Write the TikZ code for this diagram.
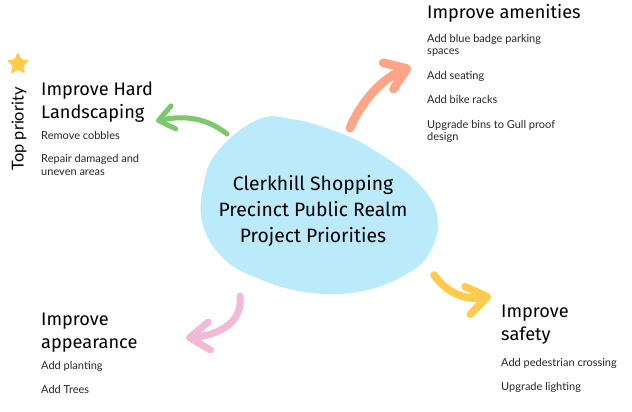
\documentclass[tikz,border=0pt]{standalone}
\usepackage{fontspec}
\setmainfont{Lato}
\newfontfamily\handfont{Fira Sans}
\usepackage{xcolor}
\usepackage{tikz}
\usetikzlibrary{positioning,arrows.meta,shapes.geometric}

\definecolor{blobblue}{HTML}{BBEAFB}
\definecolor{brushgreen}{HTML}{7CC86A}
\definecolor{brushorange}{HTML}{FFA587}
\definecolor{brushyellow}{HTML}{FFCB4C}
\definecolor{brushpink}{HTML}{F2BAD6}

\begin{document}
\begin{tikzpicture}[
    x=0.03cm, y=-0.03cm,
    head_txt/.style={anchor=base west, inner sep=0pt, font=\handfont\fontsize{15.5}{18}\selectfont},
    item_txt/.style={anchor=base west, inner sep=0pt, text=black!85, font=\fontsize{9.4}{11}\selectfont},
    title_txt/.style={anchor=base, inner sep=0pt, font=\handfont\fontsize{16.5}{20}\selectfont},
    brush/.style={draw=#1, line cap=round, line join=round},
    tip_s/.style={-{Straight Barb[length=13pt, width=20pt, round]}},
    tip_l/.style={-{Straight Barb[length=17pt, width=24pt, round]}}
]
\useasboundingbox (0,0) rectangle (632,411);

% centre blob
\fill[blobblue] plot[smooth cycle, tension=0.7] coordinates {
    (257,120) (292,119) (340,133) (377,152) (417,182) (437,215)
    (430,252) (403,276) (357,292) (305,292) (257,278) (223,258)
    (203,225) (203,188) (217,152)};

\node[title_txt] (t1) at (313,190) {Clerkhill Shopping};
\node[title_txt] (t2) at (313,216) {Precinct Public Realm};
\node[title_txt] (t3) at (313,242) {Project Priorities};

% top priority
\node[star, star points=5, star point ratio=2.3, fill=brushyellow, draw=brushyellow,
      rounded corners=1.5pt, minimum size=0.72cm, inner sep=0pt] (prio_star) at (18,64) {};
\node[rotate=90, inner sep=0pt, font=\fontsize{14}{16}\selectfont] (prio) at (19,129) {Top priority};

% hard landscaping
\node[head_txt] (hard_h1) at (41,95) {Improve Hard};
\node[head_txt] (hard_h2) at (41,118) {Landscaping};
\foreach \nm/\y/\t in {hard1/139/Remove cobbles, hard2/162/Repair damaged and, hard3/175/uneven areas}
    \node[item_txt] (\nm) at (41,\y) {\t};

% amenities
\node[head_txt] (amen_h) at (427,18) {Improve amenities};
\foreach \nm/\y/\t in {amen1/42/Add blue badge parking, amen2/54/spaces, amen3/79/Add seating,
                       amen4/103/Add bike racks, amen5/128/Upgrade bins to Gull proof, amen6/140/design}
    \node[item_txt] (\nm) at (427,\y) {\t};

% appearance
\node[head_txt] (app_h1) at (41,325) {Improve};
\node[head_txt] (app_h2) at (41,348) {appearance};
\foreach \nm/\y/\t in {app1/369/Add planting, app2/393/Add Trees}
    \node[item_txt] (\nm) at (41,\y) {\t};

% safety
\node[head_txt] (saf_h1) at (501,317) {Improve};
\node[head_txt] (saf_h2) at (501,340) {safety};
\foreach \nm/\y/\t in {saf1/366/Add pedestrian crossing, saf2/390/Upgrade lighting}
    \node[item_txt] (\nm) at (501,\y) {\t};

% brush arrows
\coordinate (g_tail) at (227,134);
\coordinate (g_tip)  at (156,121);
\coordinate (o_tail) at (350,128);
\coordinate (o_tip)  at (411,67);
\coordinate (y_tail) at (434,275);
\coordinate (y_tip)  at (491,296);
\coordinate (p_tail) at (240,296);
\coordinate (p_tip)  at (186,338);

\draw[brush=brushgreen, line width=4.3pt, tip_s] (g_tail) .. controls (207,118) and (185,115) .. (g_tip);
\draw[brush=brushorange, line width=7.5pt, tip_l] (o_tail) .. controls (362,100) and (383,78) .. (o_tip);
\draw[brush=brushyellow, line width=6.5pt, tip_l] (y_tail) .. controls (446,292) and (465,301) .. (y_tip);
\draw[brush=brushpink, line width=6pt, tip_l] (p_tail) .. controls (243,320) and (222,335) .. (p_tip);

\end{tikzpicture}
\end{document}
